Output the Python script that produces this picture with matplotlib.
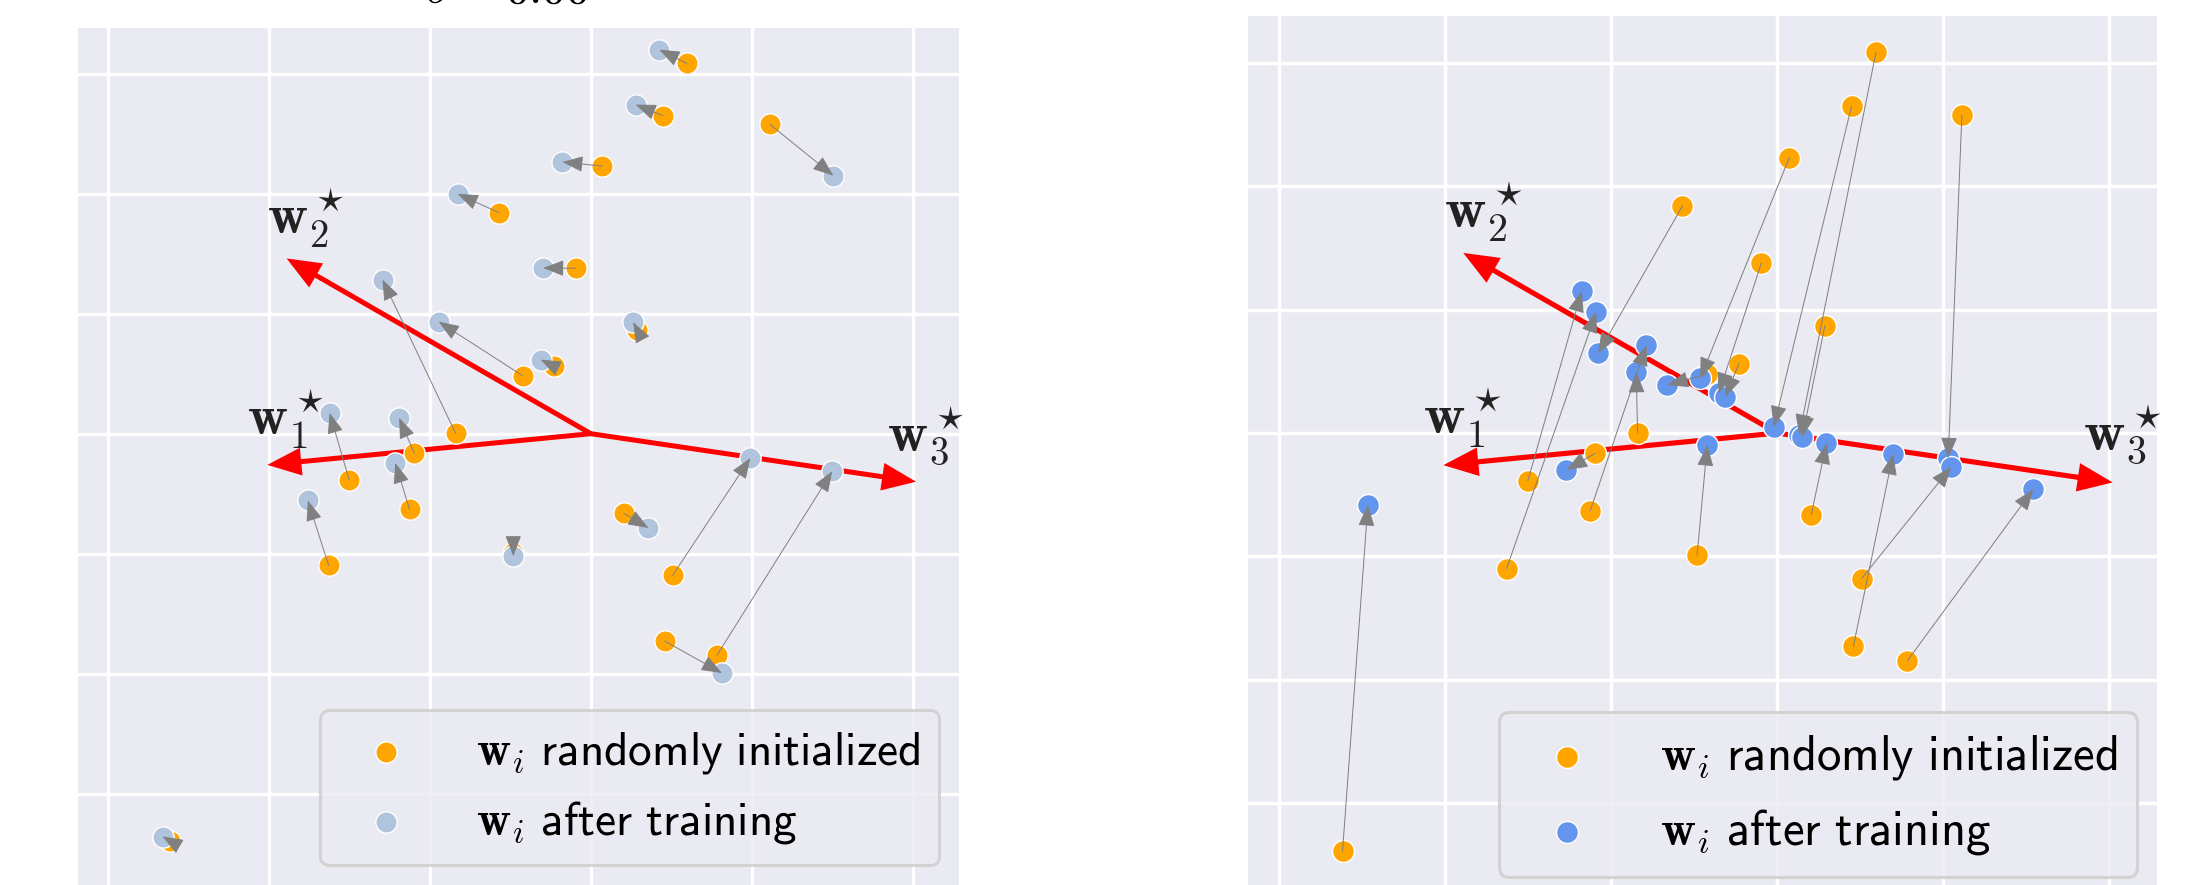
import numpy as np
import matplotlib
matplotlib.use("Agg")
import matplotlib.pyplot as plt
from matplotlib.patches import FancyArrowPatch, ArrowStyle

plt.rcParams["mathtext.fontset"] = "cm"

# Teacher directions w*_1, w*_2, w*_3
W_STAR_X = [-2.01, -1.89, 2.02]
W_STAR_Y = [-0.26, 1.46, -0.40]
W_STAR_LABELS = [r"$\mathbf{w}_1^\star$", r"$\mathbf{w}_2^\star$", r"$\mathbf{w}_3^\star$"]

# Student weights at initialization (shared by both runs)
INIT_X = [0.595, 0.448, 1.112, 0.072, -0.570, -0.095, 0.287, -0.420, -0.230, -0.840,
          -1.501, -1.096, -1.126, -1.629, -0.482, 0.205, 0.508, 0.784, 0.459, -2.617]
INIT_Y = [3.086, 2.650, 2.578, 2.229, 1.841, 1.378, 0.868, 0.480, 0.563, 0.002,
          -0.386, -0.165, -0.631, -1.098, -0.990, -0.663, -1.180, -1.845, -1.728, -3.390]

# Student weights after training, first run
LEFT_FINAL_X = [0.425, 0.278, 1.506, -0.177, -0.827, -0.296, 0.263, -0.945, -0.312, -1.294,
                -1.623, -1.191, -1.215, -1.758, -0.482, 0.358, 0.991, 1.499, 0.814, -2.661]
LEFT_FINAL_Y = [3.200, 2.742, 2.150, 2.264, 1.998, 1.381, 0.928, 0.933, 0.617, 1.283,
                0.173, 0.131, -0.244, -0.556, -1.020, -0.786, -0.203, -0.314, -1.994, -3.356]

# Student weights after training, second run
RIGHT_FINAL_X = [0.133, -0.020, 1.030, -0.463, -1.078, -0.352, 0.151, -0.661, -0.313, -0.849,
                 -1.177, -1.269, -0.787, -1.089, -0.421, 0.297, 1.049, 1.542, 0.698, -2.464]
RIGHT_FINAL_Y = [-0.016, 0.051, -0.205, 0.443, 0.645, 0.321, -0.032, 0.389, 0.291, 0.496,
                 1.150, -0.300, 0.713, 0.982, -0.097, -0.083, -0.273, -0.456, -0.170, -0.583]

LEGEND_LABELS = [r"$\mathbf{w}_i\ \mathsf{randomly\ initialized}$",
                 r"$\mathbf{w}_i\ \mathsf{after\ training}$"]
TITLE = r"$\sigma = 0.00$"

XLIM = (-3.186, 2.287)
YLIM = (-3.76, 3.38)

BG = "#EAEAF2"
ORANGE = "#FFA500"

W, H = 2194, 885
fig = plt.figure(figsize=(W / 100, H / 100), dpi=100)


def px_axes(left, right, top, bottom):
    return fig.add_axes([left / W, (H - bottom) / H, (right - left) / W, (bottom - top) / H])


def draw_panel(ax, final_x, final_y, final_color, k):
    ax.set_facecolor(BG)
    for s in ax.spines.values():
        s.set_visible(False)
    ax.set_xlim(*XLIM)
    ax.set_ylim(*YLIM)
    ax.set_xticks(np.arange(-3, 3))
    ax.set_yticks(np.arange(-3, 4))
    ax.tick_params(length=0, labelbottom=False, labelleft=False)
    ax.set_axisbelow(True)
    ax.grid(True, color="white", linewidth=2.4 * k)

    # teacher vectors
    red_style = ArrowStyle.Simple(head_length=24.5, head_width=20, tail_width=3.6)
    offsets = [(13.5, 33), (14, 29), (7, 33)]
    for wx, wy, lab, off in zip(W_STAR_X, W_STAR_Y, W_STAR_LABELS, offsets):
        ax.add_patch(FancyArrowPatch((0, 0), (wx, wy), arrowstyle=red_style,
                                     mutation_scale=k, color="red", lw=0,
                                     shrinkA=0, shrinkB=0, zorder=2))
        ax.annotate(lab, (wx, wy), xytext=(off[0] * k, off[1] * k),
                    textcoords="offset points", ha="center", va="center",
                    fontsize=40 * k, color="#222222", zorder=6)

    size = 235 * k * k
    h1 = ax.scatter(INIT_X, INIT_Y, s=size, color=ORANGE, edgecolor="white",
                    linewidth=1.0 * k, zorder=3, label=LEGEND_LABELS[0])
    h2 = ax.scatter(final_x, final_y, s=size, color=final_color, edgecolor="white",
                    linewidth=1.0 * k, zorder=4, label=LEGEND_LABELS[1])

    gray_style = ArrowStyle("-|>", head_length=13, head_width=5)
    for x0, y0, x1, y1 in zip(INIT_X, INIT_Y, final_x, final_y):
        ax.add_patch(FancyArrowPatch((x0, y0), (x1, y1), arrowstyle=gray_style,
                                     mutation_scale=k, color="gray", lw=0.7 * k,
                                     shrinkA=0, shrinkB=0, zorder=5))

    leg = ax.legend(handles=[h1, h2], loc="lower right", fontsize=34 * k,
                    frameon=True, fancybox=True, framealpha=0.8, facecolor=BG,
                    edgecolor="#CCCCCC", handlelength=2.0, handletextpad=0.9,
                    borderpad=0.4, labelspacing=0.5, borderaxespad=0.42)
    leg.get_frame().set_linewidth(2.2 * k)
    leg.set_zorder(7)


ax_l = px_axes(78, 959, 28, 885)
draw_panel(ax_l, LEFT_FINAL_X, LEFT_FINAL_Y, "#B0C4DE", 1.0)

ax_r = px_axes(1248, 2157, 16, 897)
draw_panel(ax_r, RIGHT_FINAL_X, RIGHT_FINAL_Y, "#6495ED", 1.03)

fig.text(507 / W, 1 - 3 / H, TITLE, ha="center", va="baseline", fontsize=34)

fig.savefig("out.png", dpi=100, facecolor="white")
